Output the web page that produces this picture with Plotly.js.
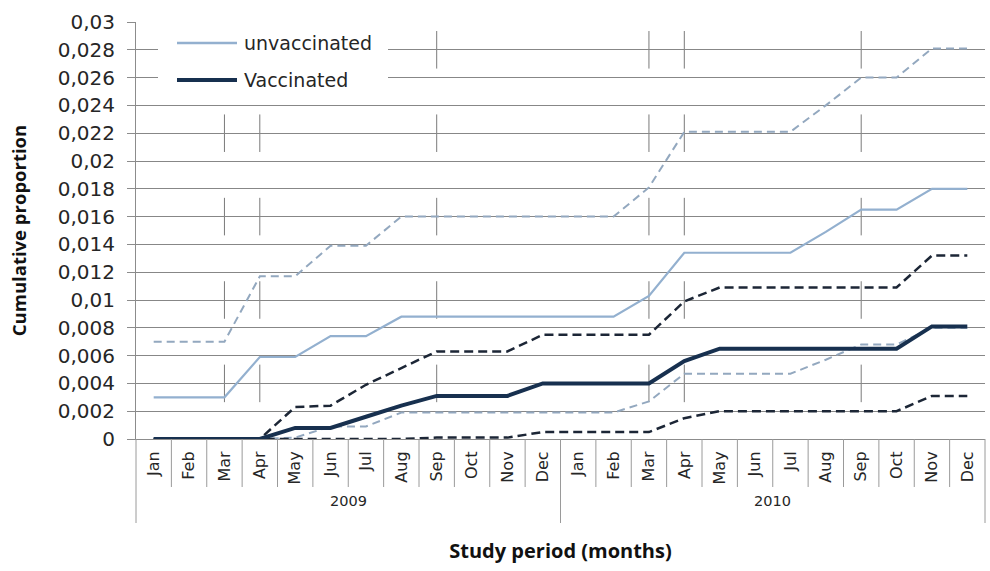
<!DOCTYPE html>
<html><head><meta charset="utf-8">
<script src="https://cdn.plot.ly/plotly-3.0.1.min.js"></script>
<style>html,body{margin:0;padding:0;background:#fff}</style>
</head><body><div id="chart" style="width:990px;height:571px"></div>
<script>
// ---- data ----
const months = ['Jan','Feb','Mar','Apr','May','Jun','Jul','Aug','Sep','Oct','Nov','Dec',
                'Jan','Feb','Mar','Apr','May','Jun','Jul','Aug','Sep','Oct','Nov','Dec'];
const years = ['2009','2010'];
const unvaccinated = [0.003,0.003,0.003,0.0059,0.0059,0.0074,0.0074,0.0088,0.0088,0.0088,0.0088,0.0088,
                      0.0088,0.0088,0.0103,0.0134,0.0134,0.0134,0.0134,0.0149,0.0165,0.0165,0.018,0.018];
const unvaccUpper = [0.007,0.007,0.007,0.0117,0.0117,0.0139,0.0139,0.016,0.016,0.016,0.016,0.016,
                     0.016,0.016,0.0181,0.0221,0.0221,0.0221,0.0221,0.024,0.026,0.026,0.0281,0.0281];
const unvaccLower = [0,0,0,0,0.0001,0.0009,0.0009,0.0019,0.0019,0.0019,0.0019,0.0019,
                     0.0019,0.0019,0.0027,0.0047,0.0047,0.0047,0.0047,0.0057,0.0068,0.0068,0.008,0.008];
const vaccinated = [0,0,0,0,0.0008,0.0008,0.0016,0.0024,0.0031,0.0031,0.0031,0.004,
                    0.004,0.004,0.004,0.0056,0.0065,0.0065,0.0065,0.0065,0.0065,0.0065,0.0081,0.0081];
const vaccUpper = [0,0,0,0,0.0023,0.0024,0.0039,0.0051,0.0063,0.0063,0.0063,0.0075,
                   0.0075,0.0075,0.0075,0.0099,0.0109,0.0109,0.0109,0.0109,0.0109,0.0109,0.0132,0.0132];
const vaccLower = [0,0,0,0,0,0,0,0,0.0001,0.0001,0.0001,0.0005,
                   0.0005,0.0005,0.0005,0.0015,0.002,0.002,0.002,0.002,0.002,0.002,0.0031,0.0031];
const yTickVals = [0,0.002,0.004,0.006,0.008,0.01,0.012,0.014,0.016,0.018,0.02,0.022,0.024,0.026,0.028,0.03];
const yTickText = ['0','0,002','0,004','0,006','0,008','0,01','0,012','0,014','0,016','0,018','0,02','0,022','0,024','0,026','0,028','0,03'];
// stray vertical marks in the original picture (category index / y level)
const markCats = [2,3,8,14,15,20];
const markLevels = [0.028,0.022,0.016,0.010,0.004];

// ---- styles ----
const C_UNV = '#93b0cf', C_UNV_D = '#93a8bf', C_VAC = '#17304f', C_VAC_D = '#1c2636';
const GRID = '#878787', TXT = '#262626';
const xIdx = months.map((m,i)=>i);

const traces = [
  {x:xIdx, y:unvaccUpper, mode:'lines', line:{color:C_UNV_D, width:2, dash:'8px,5px'}},
  {x:xIdx, y:unvaccLower, mode:'lines', line:{color:C_UNV_D, width:2, dash:'8px,5px'}},
  {x:xIdx, y:unvaccinated, mode:'lines', line:{color:C_UNV, width:2.2}, name:'unvaccinated'},
  {x:xIdx, y:vaccUpper, mode:'lines', line:{color:C_VAC_D, width:2.5, dash:'9px,5px'}},
  {x:xIdx, y:vaccLower, mode:'lines', line:{color:C_VAC_D, width:2.5, dash:'9px,5px'}},
  {x:xIdx, y:vaccinated, mode:'lines', line:{color:C_VAC, width:4}, name:'Vaccinated'}
].map(t=>Object.assign(t,{showlegend:false, hoverinfo:'skip'}));

const H = 417; // plot height px
const shapes = [];
// category boundaries below the axis
for (let j=0;j<=months.length;j++){
  const isYear = (j===0 || j===12 || j===24);
  shapes.push({type:'line', xref:'paper', yref:'paper', x0:j/24, x1:j/24, y0:0, y1:-(isYear?84:48)/H,
               line:{color:'#9a9a9a', width:1}, layer:'above'});
}
// stray marks
markCats.forEach(c=>markLevels.forEach(l=>{
  shapes.push({type:'line', xref:'x', yref:'y', x0:c, x1:c, y0:l-0.00135, y1:l+0.00135,
               line:{color:'#7a7a7a', width:1}, layer:'below'});
}));
// legend box
const px2x = p => (p-136)/849, py2y = p => (439-p)/417;
shapes.push({type:'rect', xref:'paper', yref:'paper', x0:px2x(158), x1:px2x(388), y0:py2y(98), y1:py2y(28),
             fillcolor:'#ffffff', line:{width:0}, layer:'above'});
shapes.push({type:'line', xref:'paper', yref:'paper', x0:px2x(177), x1:px2x(237), y0:py2y(43), y1:py2y(43),
             line:{color:C_UNV, width:2.5}, layer:'above'});
shapes.push({type:'line', xref:'paper', yref:'paper', x0:px2x(177), x1:px2x(237), y0:py2y(80), y1:py2y(80),
             line:{color:C_VAC, width:4}, layer:'above'});

const annotations = [
  {xref:'paper', yref:'paper', x:px2x(242), y:py2y(43), xanchor:'left', yanchor:'middle', showarrow:false,
   text:'unvaccinated', font:{family:'DejaVu Sans', size:19, color:TXT}},
  {xref:'paper', yref:'paper', x:px2x(242), y:py2y(80), xanchor:'left', yanchor:'middle', showarrow:false,
   text:'Vaccinated', font:{family:'DejaVu Sans', size:19, color:TXT}},
  {xref:'paper', yref:'paper', x:0.25, y:py2y(501), xanchor:'center', yanchor:'middle', showarrow:false,
   text:years[0], font:{family:'DejaVu Sans', size:14.5, color:TXT}},
  {xref:'paper', yref:'paper', x:0.75, y:py2y(501), xanchor:'center', yanchor:'middle', showarrow:false,
   text:years[1], font:{family:'DejaVu Sans', size:14.5, color:TXT}}
];

const layout = {
  width:990, height:571,
  margin:{l:136, r:5, t:22, b:132, pad:0},
  paper_bgcolor:'#ffffff', plot_bgcolor:'#ffffff',
  showlegend:false,
  xaxis:{
    range:[-0.5,23.5], tickmode:'array', tickvals:xIdx, ticktext:months, tickangle:-90,
    ticks:'', showgrid:false, zeroline:false, showline:true, linecolor:'#8c8c8c', linewidth:1,
    tickfont:{family:'DejaVu Sans', size:16, color:TXT}, ticklabelstandoff:5,
    title:{text:'Study period (months)', font:{family:'Open Sans', size:20, color:'#111', weight:'bold'}, standoff:60},
    automargin:false, fixedrange:true
  },
  yaxis:{
    range:[0,0.03], tickmode:'array', tickvals:yTickVals, ticktext:yTickText,
    ticks:'outside', ticklen:8, tickcolor:'#8c8c8c', ticklabelstandoff:8,
    showgrid:true, gridcolor:GRID, gridwidth:1, zeroline:false,
    showline:true, linecolor:'#8c8c8c', linewidth:1,
    tickfont:{family:'DejaVu Sans', size:20, color:TXT},
    title:{text:'Cumulative proportion', font:{family:'Open Sans', size:18.5, color:'#111', weight:'bold'}, standoff:26},
    automargin:false, fixedrange:true
  },
  shapes:shapes, annotations:annotations
};
Plotly.newPlot('chart', traces, layout, {staticPlot:true, displayModeBar:false});
</script></body></html>
